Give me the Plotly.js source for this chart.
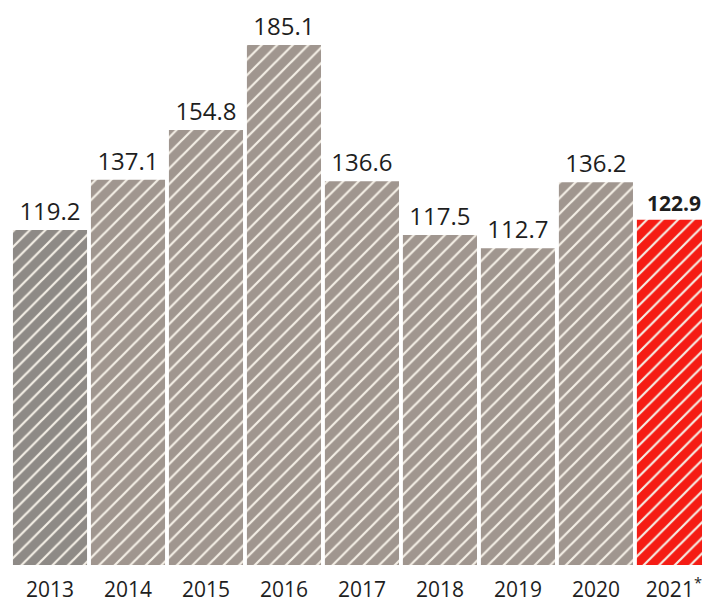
<!DOCTYPE html>
<html><head><meta charset="utf-8">
<script src="https://cdn.plot.ly/plotly-3.0.1.min.js"></script>
<style>html,body{margin:0;padding:0;background:#fff}#chart{width:702px;height:602px}</style>
</head><body><div id="chart"></div>
<script>
const years = ['2013','2014','2015','2016','2017','2018','2019','2020','2021*'];
const tickLabels = ['2013','2014','2015','2016','2017','2018','2019','2020','2021<sup>*</sup>'];
const values = [119.2, 137.1, 154.8, 185.1, 136.6, 117.5, 112.7, 136.2, 122.9];
const labels = ['119.2','137.1','154.8','185.1','136.6','117.5','112.7','136.2','<b>122.9</b>'];
const labelSizes = [24, 24, 24, 24, 24, 24, 24, 24, 21];
const barColors = ['#8e8a86','#a0968f','#a0968f','#a0968f','#a0968f','#a0968f','#a0968f','#a0968f','#f51c14'];

const trace = {
  type: 'bar',
  x: years,
  y: values,
  text: labels,
  texttemplate: '%{text}',
  textposition: 'outside',
  cliponaxis: false,
  textfont: {family: 'Open Sans, sans-serif', size: labelSizes, color: '#1e1e1e'},
  marker: {
    color: '#ffffff',
    line: {width: 0},
    pattern: {shape: '/', bgcolor: barColors, fgcolor: '#f4efe6', size: 11, solidity: 0.2, fillmode: 'replace'}
  },
  hoverinfo: 'none'
};

const layout = {
  width: 702, height: 602,
  margin: {l: 11, r: 0, t: 0, b: 37},
  paper_bgcolor: '#ffffff', plot_bgcolor: '#ffffff',
  bargap: 0.05,
  showlegend: false,
  xaxis: {
    type: 'category',
    range: [-0.5, 8.36],
    tickmode: 'array', tickvals: years, ticktext: tickLabels,
    showgrid: false, zeroline: false, showline: false,
    ticks: 'outside', ticklen: 6, tickcolor: 'rgba(0,0,0,0)',
    tickfont: {family: 'Open Sans, sans-serif', size: 21, color: '#1e1e1e'},
    fixedrange: true
  },
  yaxis: {
    range: [0, 201.1],
    visible: false,
    showgrid: false, zeroline: false,
    fixedrange: true
  }
};

Plotly.newPlot('chart', [trace], layout, {displayModeBar: false, staticPlot: true});
</script></body></html>
